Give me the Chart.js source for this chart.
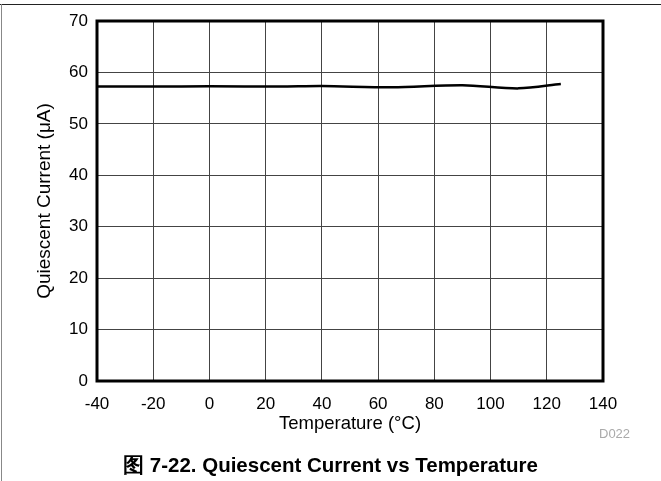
<!DOCTYPE html>
<html>
<head>
<meta charset="utf-8">
<script src="https://cdn.jsdelivr.net/npm/chart.js@4"></script>
<style>
  body { margin: 0; background: #fff; font-family: "Liberation Sans", Arial, sans-serif; }
  #wrap { position: relative; width: 661px; height: 481px; overflow: hidden; }
  #frameTop { position: absolute; left: 0; top: 4px; width: 661px; height: 1px; background: #222; }
  #frameLeft { position: absolute; left: 1px; top: 4px; width: 1px; height: 477px; background: #888; }
  #code { position: absolute; left: 599px; top: 426px; font-size: 13px; color: #aaa; }
  #caption { position: absolute; left: 0; width: 661px; top: 451px; text-align: center; font-size: 20.5px; font-weight: bold; color: #000; }
  canvas { position: absolute; left: 0; top: 0; }
</style>
</head>
<body>
<div id="wrap">
  <div id="frameTop"></div>
  <div id="frameLeft"></div>
  <canvas id="chart" width="661" height="481"></canvas>
  <div id="code">D022</div>
  <div id="caption">图 7-22. Quiescent Current vs Temperature</div>
</div>
<script>
const temps = [-40, -20, 0, 25, 40, 65, 90, 110, 125];
const current = [57.25, 57.25, 57.3, 57.25, 57.35, 57.1, 57.5, 56.9, 57.75];
const xTicks = [-40, -20, 0, 20, 40, 60, 80, 100, 120, 140];
const yTicks = [0, 10, 20, 30, 40, 50, 60, 70];

const fontFam = '"Liberation Sans", Arial, sans-serif';

// caja gruesa alrededor del área de trazado
const boxPlugin = {
    id: 'box',
    afterDraw(chart) {
        const { ctx, chartArea: a } = chart;
        ctx.save();
        ctx.strokeStyle = '#000';
        ctx.lineWidth = 3;
        ctx.strokeRect(a.left, a.top, a.right - a.left, a.bottom - a.top);
        ctx.restore();
    }
};

new Chart(document.getElementById('chart').getContext('2d'), {
    type: 'line',
    data: {
        datasets: [{
            data: temps.map((t, i) => ({ x: t, y: current[i] })),
            borderColor: '#000',
            borderWidth: 2.5,
            pointRadius: 0,
            tension: 0.3,
            fill: false
        }]
    },
    options: {
        responsive: false,
        animation: false,
        layout: { padding: { top: 21, right: 58, left: 0, bottom: 0 } },
        plugins: { legend: { display: false }, tooltip: { enabled: false } },
        scales: {
            x: {
                type: 'linear',
                min: -40, max: 140,
                afterBuildTicks: s => { s.ticks = xTicks.map(v => ({ value: v })); },
                afterFit: s => { s.height = 100; },
                grid: { color: '#444', lineWidth: 1, drawTicks: false },
                border: { display: false },
                ticks: { color: '#000', padding: 13, font: { family: fontFam, size: 17 } },
                title: { display: true, text: 'Temperature (°C)', color: '#000', padding: { top: 0, bottom: 46 }, font: { family: fontFam, size: 18.5 } }
            },
            y: {
                min: 0, max: 70,
                afterBuildTicks: s => { s.ticks = yTicks.map(v => ({ value: v })); },
                afterFit: s => { s.width = 97; },
                grid: { color: '#444', lineWidth: 1, drawTicks: false },
                border: { display: false },
                ticks: { color: '#000', padding: 9, font: { family: fontFam, size: 17 } },
                title: { display: true, text: 'Quiescent Current (μA)', color: '#000', padding: { top: 33, bottom: 0 }, font: { family: fontFam, size: 19 } }
            }
        }
    },
    plugins: [boxPlugin]
});
</script>
</body>
</html>
